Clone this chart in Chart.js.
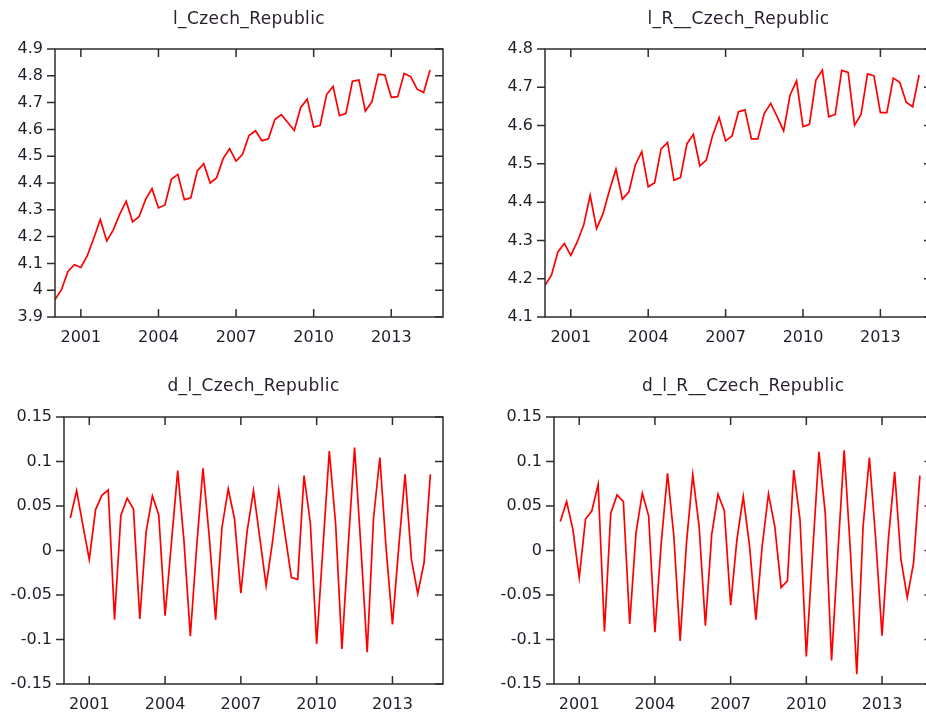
<!DOCTYPE html>
<html>
<head>
<meta charset="utf-8">
<title>Czech Republic</title>
<script src="https://cdn.jsdelivr.net/npm/chart.js@4.4.1/dist/chart.umd.min.js"></script>
<style>
  html, body { margin: 0; padding: 0; background: #fff; }
  #page { position: relative; width: 926px; height: 715px; overflow: hidden; }
  #page canvas { position: absolute; }
</style>
</head>
<body>
<div id="page">
  <canvas id="lChart" width="463" height="357" style="left:0;top:0"></canvas>
  <canvas id="lrChart" width="480" height="357" style="left:463px;top:0"></canvas>
  <canvas id="dlChart" width="463" height="355" style="left:0;top:360px"></canvas>
  <canvas id="dlrChart" width="480" height="355" style="left:463px;top:360px"></canvas>
</div>
<script>
// quarterly series, levels start 2000:1, differences start 2000:2
const startYear = 2000;
const yearTicks = [2001, 2004, 2007, 2010, 2013];

const lCzech = [3.965, 4.002, 4.070, 4.095, 4.085, 4.129, 4.194, 4.264, 4.184, 4.224,
  4.283, 4.332, 4.255, 4.274, 4.338, 4.379, 4.307, 4.318, 4.414, 4.432,
  4.338, 4.345, 4.445, 4.472, 4.400, 4.420, 4.491, 4.528, 4.482, 4.507,
  4.577, 4.595, 4.558, 4.565, 4.637, 4.655, 4.626, 4.596, 4.682, 4.713,
  4.608, 4.615, 4.730, 4.760, 4.651, 4.660, 4.780, 4.784, 4.668, 4.703,
  4.806, 4.803, 4.720, 4.722, 4.809, 4.797, 4.750, 4.738, 4.822];

const lRCzech = [4.183, 4.209, 4.270, 4.292, 4.261, 4.296, 4.340, 4.418, 4.331, 4.370,
  4.431, 4.486, 4.408, 4.427, 4.497, 4.532, 4.440, 4.451, 4.539, 4.556,
  4.457, 4.464, 4.552, 4.577, 4.495, 4.510, 4.575, 4.621, 4.560, 4.573,
  4.636, 4.641, 4.565, 4.565, 4.632, 4.658, 4.623, 4.586, 4.680, 4.717,
  4.597, 4.603, 4.719, 4.745, 4.623, 4.629, 4.744, 4.739, 4.601, 4.629,
  4.735, 4.730, 4.634, 4.634, 4.724, 4.713, 4.661, 4.649, 4.732];

const dlCzech = [0.0365, 0.0673, 0.028, -0.010, 0.046, 0.062, 0.068, -0.0777, 0.0394, 0.0588,
  0.0465, -0.077, 0.021, 0.0614, 0.040, -0.0733, 0.008, 0.0897, 0.010, -0.0963,
  0.004, 0.0923, 0.015, -0.0777, 0.0253, 0.0692, 0.0353, -0.048, 0.022, 0.0673,
  0.0141, -0.0398, 0.009, 0.068, 0.0179, -0.0305, -0.0324, 0.0841, 0.0309, -0.105,
  0.004, 0.1116, 0.030, -0.1105, 0.006, 0.1157, 0.004, -0.1142, 0.036, 0.1045,
  0.002, -0.083, 0.004, 0.0856, -0.010, -0.0484, -0.0138, 0.0856];

const dlRCzech = [0.0327, 0.055, 0.0234, -0.0305, 0.0353, 0.0446, 0.0744, -0.0911, 0.042, 0.0625,
  0.055, -0.0826, 0.0197, 0.0644, 0.039, -0.0919, 0.0086, 0.0867, 0.016, -0.1016,
  0.0086, 0.0852, 0.0272, -0.0844, 0.0179, 0.0632, 0.0446, -0.0614, 0.0123, 0.0606,
  0.005, -0.0777, 0.005, 0.0636, 0.0272, -0.0417, -0.0342, 0.0904, 0.0346, -0.119,
  -0.0026, 0.1109, 0.042, -0.1235, -0.0026, 0.1127, -0.0026, -0.139, 0.0272, 0.1045,
  0.0123, -0.0956, 0.0123, 0.0885, -0.010, -0.0528, -0.0138, 0.0841];

Chart.defaults.font.family = "'DejaVu Sans', Verdana, sans-serif";
Chart.defaults.font.size = 16;
Chart.defaults.color = '#1f1f2a';

// gnuplot style frame: box, mirrored ticks pointing in, left ticks pointing out, title over plot
const frameTicks = {
  id: 'frameTicks',
  afterDraw(chart, args, opts) {
    const { ctx, chartArea: a, scales: { x, y } } = chart;
    const len = 8;
    ctx.save();
    ctx.strokeStyle = '#2d2d2d';
    ctx.lineWidth = 1.5;
    ctx.beginPath();
    x.ticks.forEach(t => {
      const px = x.getPixelForValue(t.value);
      ctx.moveTo(px, a.bottom); ctx.lineTo(px, a.bottom - len);
      ctx.moveTo(px, a.top); ctx.lineTo(px, a.top + len);
    });
    y.ticks.forEach(t => {
      const py = y.getPixelForValue(t.value);
      ctx.moveTo(a.left - len, py); ctx.lineTo(a.left, py);
      ctx.moveTo(a.right, py); ctx.lineTo(a.right - len, py);
    });
    ctx.stroke();
    ctx.strokeRect(a.left, a.top, a.right - a.left, a.bottom - a.top);

    ctx.fillStyle = '#2a2030';
    ctx.font = "17px 'DejaVu Sans', Verdana, sans-serif";
    ctx.letterSpacing = '0.4px';
    ctx.textAlign = 'center';
    ctx.textBaseline = 'middle';
    ctx.fillText(opts.text, (a.left + a.right) / 2, opts.titleY);
    ctx.restore();
  }
};

function tickText(v) {
  return String(+v.toFixed(3));
}

function makePanel(id, title, values, firstQuarter, yMin, yMax, yStep, box) {
  const points = values.map((v, i) => ({ x: startYear + (firstQuarter + i) / 4, y: v }));
  return new Chart(document.getElementById(id), {
    type: 'line',
    data: {
      datasets: [{
        data: points,
        borderColor: '#ff0000',
        borderWidth: 1.7,
        pointRadius: 0,
        tension: 0,
        fill: false
      }]
    },
    options: {
      responsive: false,
      animation: false,
      events: [],
      layout: { padding: { top: box.top, right: box.right, bottom: 0, left: 0 } },
      plugins: {
        legend: { display: false },
        tooltip: { enabled: false },
        frameTicks: { text: title, titleY: box.titleY }
      },
      scales: {
        x: {
          type: 'linear',
          min: startYear,
          max: 2015,
          grid: { display: false, drawTicks: false },
          border: { display: false },
          afterBuildTicks: s => { s.ticks = yearTicks.map(v => ({ value: v })); },
          afterFit: s => { s.height = box.xh; },
          ticks: { padding: 11, maxRotation: 0, callback: v => String(v) }
        },
        y: {
          min: yMin,
          max: yMax,
          grid: { display: false, drawTicks: false },
          border: { display: false },
          afterFit: s => { s.width = box.yw; },
          ticks: { stepSize: yStep, padding: 12, callback: tickText }
        }
      }
    },
    plugins: [frameTicks]
  });
}

makePanel('lChart', 'l_Czech_Republic', lCzech, 0, 3.9, 4.9, 0.1,
  { top: 49, right: 20, xh: 40, yw: 55, titleY: 20 });
makePanel('lrChart', 'l_R__Czech_Republic', lRCzech, 0, 4.1, 4.8, 0.1,
  { top: 49, right: 11, xh: 40, yw: 82, titleY: 20 });
makePanel('dlChart', 'd_l_Czech_Republic', dlCzech, 1, -0.15, 0.15, 0.05,
  { top: 57, right: 20, xh: 31, yw: 64, titleY: 27 });
makePanel('dlrChart', 'd_l_R__Czech_Republic', dlRCzech, 1, -0.15, 0.15, 0.05,
  { top: 57, right: 10.5, xh: 31, yw: 91, titleY: 27 });
</script>
</body>
</html>
